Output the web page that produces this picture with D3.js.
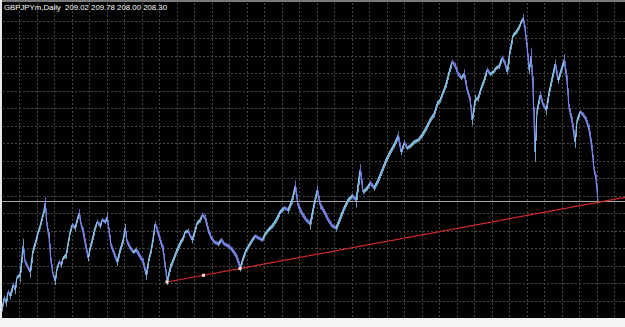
<!DOCTYPE html>
<html>
<head>
<meta charset="utf-8">
<script src="https://cdn.jsdelivr.net/npm/d3@7"></script>
<style>
  html, body { margin: 0; padding: 0; background: #ffffff; }
  svg { display: block; }
</style>
</head>
<body>
<svg id="chart" width="625" height="327"></svg>
<script>
// GBPJPYm daily closes (bar index, price)
const barIndex = [0,2,4,6,8,11,13,15,18,21,23,26,28,31,34,36,38,40,42,43,45,47,49,51,53,55,57,59,61,64,66,68,70,73,75,77,79,81,84,86,88,90,93,95,98,100,103,105,107,109,112,115,118,121,123,125,128,131,134,138,141,144,147,149,151,153,155,158,161,163,165,168,171,174,178,181,183,186,188,190,193,195,198,200,203,206,209,212,216,219,222,226,230,234,238,241,244,247,250,253,256,260,263,266,270,274,278,282,286,290,293,296,300,304,308,312,315,318,322,326,330,334,338,342,346,350,354,358,361,365,368,372,376,380,384,388,392,396,399,402,405,408,412,416,420,424,428,432,435,438,441,444,447,450,453,456,459,462,465,468,470,473,476,479,482,485,488,491,494,497,500,503,505,508,511,514,517,519,521,523,525,527,529,531,533,535,538,541,544,547,550,553,556,559,562,565,567,570,573,575,578,581,584,587,590,592,594,596];
const closes = [182.62,185.02,183.82,186.46,185.50,188.14,186.94,190.06,190.54,197.50,193.66,192.22,191.26,196.54,198.94,200.86,202.30,204.22,206.14,207.82,202.30,199.42,193.66,190.54,189.10,192.22,193.66,192.94,194.62,195.34,198.22,200.86,202.54,201.82,203.74,205.42,202.54,200.86,197.02,194.62,197.02,198.94,201.82,203.26,202.30,203.74,203.26,204.46,200.86,197.50,195.58,193.66,196.54,198.94,201.82,198.46,197.02,196.06,196.54,194.86,193.66,190.54,194.62,196.54,199.42,202.78,201.34,198.94,196.54,192.70,189.10,192.22,194.14,196.06,198.22,199.42,200.86,201.10,199.90,198.94,201.34,203.02,203.74,204.94,204.22,201.34,199.42,198.46,197.98,198.94,197.98,197.50,196.54,195.10,192.22,194.62,196.54,197.74,198.94,199.90,199.42,198.94,200.38,201.34,202.30,203.74,205.66,206.62,206.14,208.54,211.90,207.10,205.18,203.74,202.78,207.58,210.94,207.34,205.66,203.74,202.30,201.82,204.22,206.62,208.54,209.50,208.54,215.74,210.46,211.42,212.62,211.42,213.34,215.74,218.14,220.06,221.74,223.90,220.06,222.22,221.02,221.50,222.46,222.94,224.14,225.82,227.74,229.18,231.58,232.54,234.46,236.38,239.26,241.66,240.70,238.78,237.82,238.78,234.94,232.54,227.74,232.54,233.02,235.42,237.34,239.74,238.78,239.26,240.22,240.70,242.62,241.18,239.26,244.54,248.14,248.86,250.06,251.26,252.22,249.34,245.02,239.74,243.10,234.94,220.06,230.14,233.74,231.34,230.14,234.46,237.82,241.18,237.34,239.74,242.14,236.86,230.62,227.26,222.46,227.74,229.66,228.94,227.74,225.34,220.54,215.74,213.34,208.30];

// header values
const symbol = 'GBPJPYm,Daily';
const ohlc = [209.02, 209.78, 208.00, 208.30];

// trend line anchors (bar index, price)
const trendBars = [165, 238];
const trendPrices = [188.86, 192.10];

const W = 625, H = 327;
const plot = { left: 2, top: 2, right: 625, bottom: 317 };

const x = d3.scaleLinear().domain([0, 620]).range([plot.left, plot.left + 620]);
const y = d3.scaleLinear().domain([180.46, 256.06]).range([plot.bottom, plot.top]);

const svg = d3.select('#chart');

// frame
svg.append('rect').attr('x', 0).attr('y', 0).attr('width', W).attr('height', H).attr('fill', '#f4f4f4');
svg.append('rect').attr('x', plot.left).attr('y', plot.top)
  .attr('width', plot.right - plot.left).attr('height', plot.bottom - plot.top + 1)
  .attr('fill', '#000');
svg.append('line').attr('x1', 0).attr('x2', W).attr('y1', 1).attr('y2', 1)
  .attr('stroke', '#7a7a7a').attr('stroke-width', 2);
svg.append('line').attr('x1', 1).attr('x2', 1).attr('y1', 0).attr('y2', 318)
  .attr('stroke', '#e8e8e8').attr('stroke-width', 2);

// grid (pixel spaced like the terminal does)
const grid = svg.append('g').attr('stroke', '#474747').attr('stroke-dasharray', '2,2').attr('stroke-width', 1);
d3.range(19, plot.right, 17.5).forEach(gx => {
  grid.append('line').attr('x1', Math.round(gx) + 0.5).attr('x2', Math.round(gx) + 0.5)
    .attr('y1', plot.top + 1).attr('y2', plot.bottom);
});
d3.range(20.5, plot.bottom, 17.5).forEach(gy => {
  grid.append('line').attr('y1', Math.round(gy) + 0.5).attr('y2', Math.round(gy) + 0.5)
    .attr('x1', plot.left + 1).attr('x2', plot.right);
});

// bid line
const bid = ohlc[3];
svg.append('line').attr('x1', plot.left).attr('x2', plot.right)
  .attr('y1', Math.round(y(bid)) + 0.5).attr('y2', Math.round(y(bid)) + 0.5)
  .attr('stroke', '#a8a8a8').attr('stroke-width', 1);

// price: bar-like strokes between consecutive closes, up moves lighter/cyan, down moves lavender
const pts = barIndex.map((b, i) => [x(b), y(closes[i])]);
const bars = svg.append('g').attr('fill', 'none');
for (let i = 1; i < pts.length; i++) {
  const up = closes[i] >= closes[i - 1];
  const col = up ? '#8cc4ea' : '#7d8aee';
  const x0 = pts[i - 1][0], x1 = pts[i][0];
  const dy = Math.abs(pts[i][1] - pts[i - 1][1]);
  bars.append('line')
    .attr('x1', x0).attr('y1', pts[i - 1][1]).attr('x2', x1).attr('y2', pts[i][1])
    .attr('stroke', col).attr('stroke-width', 1.1);
  // one vertical tick per covered bar
  for (let b = Math.ceil(x0); b < x1; b += 1) {
    const t = (b - x0) / (x1 - x0 || 1);
    const yc = pts[i - 1][1] + t * (pts[i][1] - pts[i - 1][1]);
    const half = 1.5 + dy * 0.2;
    bars.append('line')
      .attr('x1', b + 0.5).attr('x2', b + 0.5).attr('y1', yc - half).attr('y2', yc + half)
      .attr('stroke', col).attr('stroke-width', 1).attr('stroke-opacity', 0.8);
  }
}

// trend ray
const slope = (trendPrices[1] - trendPrices[0]) / (trendBars[1] - trendBars[0]);
const endBar = x.invert(plot.right);
svg.append('line')
  .attr('x1', x(trendBars[0])).attr('y1', y(trendPrices[0]))
  .attr('x2', x(endBar)).attr('y2', y(trendPrices[0] + slope * (endBar - trendBars[0])))
  .attr('stroke', '#d22a2a').attr('stroke-width', 1.2);
const midBar = (trendBars[0] + trendBars[1]) / 2;
const handles = [[trendBars[0], trendPrices[0]], [midBar, (trendPrices[0] + trendPrices[1]) / 2], [trendBars[1], trendPrices[1]]];
svg.selectAll('.handle').data(handles).enter().append('rect')
  .attr('x', d => x(d[0]) - 1.5).attr('y', d => y(d[1]) - 1.5)
  .attr('width', 3).attr('height', 3).attr('fill', '#ffe0e0');

// header text
svg.append('text').attr('x', 4).attr('y', 10)
  .attr('fill', '#fff').attr('font-family', 'Liberation Sans, Arial, sans-serif').attr('font-size', 7.8)
  .attr('xml:space', 'preserve')
  .text(symbol + '  ' + ohlc.map(v => v.toFixed(2)).join(' '));
</script>
</body>
</html>
